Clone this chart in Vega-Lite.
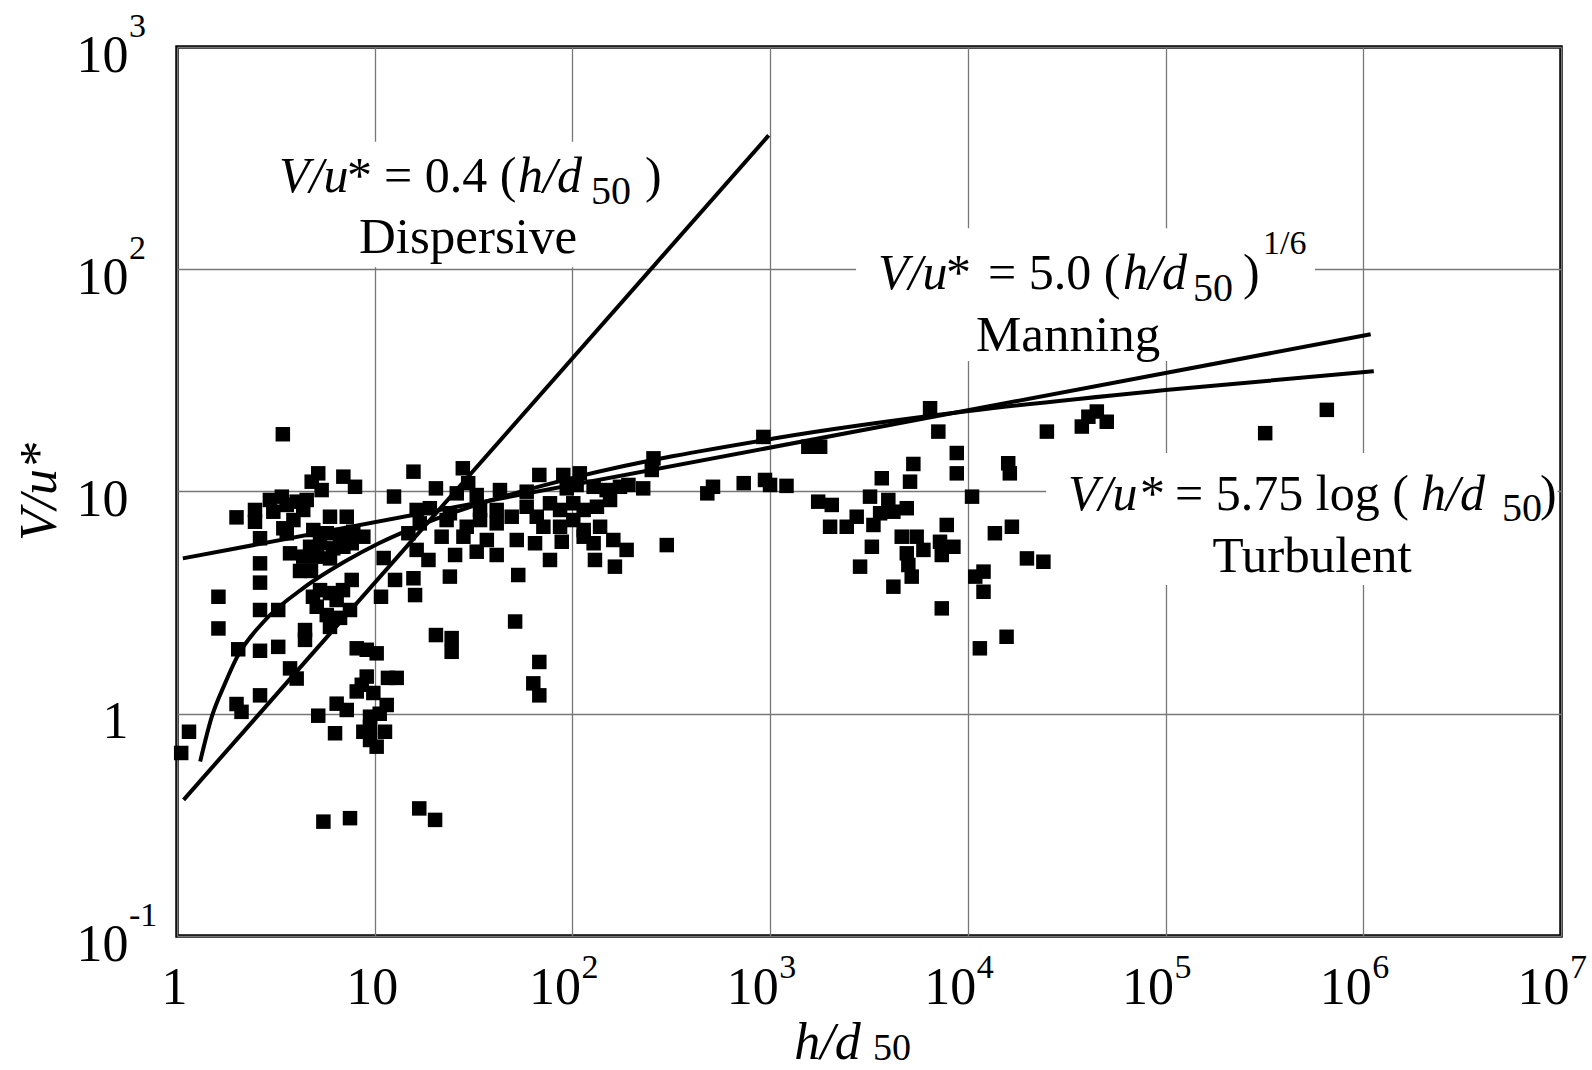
{
  "$schema": "https://vega.github.io/schema/vega-lite/v6.json",
  "width": 1384,
  "height": 889,
  "autosize": {"type": "none"},
  "padding": {"left": 177, "top": 47, "right": 31, "bottom": 134},
  "background": "white",
  "config": {
    "font": "Liberation Serif",
    "view": {"stroke": "black", "strokeWidth": 3.5}
  },
  "datasets": {
    "points": [
      {"h_d50": 3.43, "V_u": 18.1}, {"h_d50": 5.18, "V_u": 12.07}, {"h_d50": 4.80, "V_u": 11.07}, {"h_d50": 5.39, "V_u": 10.15},
      {"h_d50": 6.94, "V_u": 11.66}, {"h_d50": 7.95, "V_u": 10.5}, {"h_d50": 12.52, "V_u": 9.49}, {"h_d50": 2.00, "V_u": 7.65},
      {"h_d50": 2.48, "V_u": 8.26}, {"h_d50": 2.48, "V_u": 7.31}, {"h_d50": 2.95, "V_u": 9.16}, {"h_d50": 3.39, "V_u": 9.48},
      {"h_d50": 3.07, "V_u": 8.11}, {"h_d50": 3.59, "V_u": 8.70}, {"h_d50": 4.03, "V_u": 9.00}, {"h_d50": 4.53, "V_u": 9.16},
      {"h_d50": 4.35, "V_u": 8.26}, {"h_d50": 3.88, "V_u": 7.44}, {"h_d50": 3.45, "V_u": 6.83}, {"h_d50": 3.59, "V_u": 6.49},
      {"h_d50": 2.63, "V_u": 6.16}, {"h_d50": 5.94, "V_u": 7.70}, {"h_d50": 7.22, "V_u": 7.70}, {"h_d50": 4.89, "V_u": 6.71},
      {"h_d50": 5.72, "V_u": 6.49}, {"h_d50": 6.68, "V_u": 6.37}, {"h_d50": 7.79, "V_u": 6.59}, {"h_d50": 8.76, "V_u": 6.26},
      {"h_d50": 4.71, "V_u": 5.64}, {"h_d50": 5.29, "V_u": 5.85}, {"h_d50": 6.17, "V_u": 5.55}, {"h_d50": 6.94, "V_u": 5.64},
      {"h_d50": 7.65, "V_u": 5.85}, {"h_d50": 3.73, "V_u": 5.27}, {"h_d50": 4.35, "V_u": 5.09}, {"h_d50": 5.09, "V_u": 5.09},
      {"h_d50": 5.94, "V_u": 5.00}, {"h_d50": 2.63, "V_u": 4.75}, {"h_d50": 4.19, "V_u": 4.39}, {"h_d50": 4.76, "V_u": 4.39},
      {"h_d50": 11.1, "V_u": 5.02}, {"h_d50": 1.15, "V_u": 0.83}, {"h_d50": 1.05, "V_u": 0.666}, {"h_d50": 1.62, "V_u": 3.36},
      {"h_d50": 1.62, "V_u": 2.42}, {"h_d50": 2.04, "V_u": 1.95}, {"h_d50": 2.63, "V_u": 1.92}, {"h_d50": 3.25, "V_u": 2.00},
      {"h_d50": 2.63, "V_u": 2.93}, {"h_d50": 3.25, "V_u": 2.93}, {"h_d50": 2.63, "V_u": 3.89}, {"h_d50": 2.00, "V_u": 1.106},
      {"h_d50": 2.12, "V_u": 1.02}, {"h_d50": 2.63, "V_u": 1.21}, {"h_d50": 3.73, "V_u": 1.60}, {"h_d50": 4.03, "V_u": 1.44},
      {"h_d50": 4.44, "V_u": 2.38}, {"h_d50": 4.44, "V_u": 2.15}, {"h_d50": 5.29, "V_u": 3.60}, {"h_d50": 5.94, "V_u": 3.49},
      {"h_d50": 6.42, "V_u": 3.25}, {"h_d50": 5.09, "V_u": 3.03}, {"h_d50": 5.72, "V_u": 2.78}, {"h_d50": 5.94, "V_u": 2.46},
      {"h_d50": 6.68, "V_u": 2.70}, {"h_d50": 7.50, "V_u": 2.93}, {"h_d50": 4.87, "V_u": 3.36}, {"h_d50": 6.91, "V_u": 3.60},
      {"h_d50": 7.65, "V_u": 4.00}, {"h_d50": 10.76, "V_u": 3.36}, {"h_d50": 12.67, "V_u": 4.00}, {"h_d50": 8.11, "V_u": 1.97},
      {"h_d50": 9.11, "V_u": 1.94}, {"h_d50": 10.23, "V_u": 1.87}, {"h_d50": 9.11, "V_u": 1.47}, {"h_d50": 8.60, "V_u": 1.35},
      {"h_d50": 9.84, "V_u": 1.24}, {"h_d50": 8.11, "V_u": 1.26}, {"h_d50": 11.67, "V_u": 1.45}, {"h_d50": 12.92, "V_u": 1.45},
      {"h_d50": 6.42, "V_u": 1.11}, {"h_d50": 7.22, "V_u": 1.04}, {"h_d50": 5.18, "V_u": 0.98}, {"h_d50": 11.5, "V_u": 1.095},
      {"h_d50": 10.6, "V_u": 1.00}, {"h_d50": 9.47, "V_u": 0.97}, {"h_d50": 9.47, "V_u": 0.874}, {"h_d50": 8.76, "V_u": 0.83},
      {"h_d50": 11.27, "V_u": 0.83}, {"h_d50": 9.47, "V_u": 0.762}, {"h_d50": 10.23, "V_u": 0.711}, {"h_d50": 6.30, "V_u": 0.817},
      {"h_d50": 5.50, "V_u": 0.327}, {"h_d50": 7.50, "V_u": 0.339}, {"h_d50": 15.7, "V_u": 12.28}, {"h_d50": 27.9, "V_u": 12.72},
      {"h_d50": 68.0, "V_u": 11.87}, {"h_d50": 20.4, "V_u": 10.33}, {"h_d50": 26.0, "V_u": 9.81}, {"h_d50": 29.7, "V_u": 10.9},
      {"h_d50": 32.8, "V_u": 9.64}, {"h_d50": 43.0, "V_u": 10.15}, {"h_d50": 58.7, "V_u": 9.98}, {"h_d50": 89.9, "V_u": 11.87},
      {"h_d50": 109, "V_u": 12.07}, {"h_d50": 105, "V_u": 10.7}, {"h_d50": 93.6, "V_u": 10.33}, {"h_d50": 128, "V_u": 10.5},
      {"h_d50": 149, "V_u": 10.15}, {"h_d50": 174, "V_u": 10.5}, {"h_d50": 192, "V_u": 10.7}, {"h_d50": 228, "V_u": 10.33},
      {"h_d50": 257, "V_u": 14.1}, {"h_d50": 252, "V_u": 12.5}, {"h_d50": 16.3, "V_u": 8.26}, {"h_d50": 19.0, "V_u": 8.41},
      {"h_d50": 24.0, "V_u": 7.98}, {"h_d50": 34.1, "V_u": 8.26}, {"h_d50": 41.4, "V_u": 8.26}, {"h_d50": 49.3, "V_u": 7.70},
      {"h_d50": 58.7, "V_u": 8.54}, {"h_d50": 66.0, "V_u": 7.70}, {"h_d50": 77.0, "V_u": 8.85}, {"h_d50": 86.6, "V_u": 8.26},
      {"h_d50": 101, "V_u": 8.85}, {"h_d50": 114, "V_u": 8.26}, {"h_d50": 133, "V_u": 8.54}, {"h_d50": 155, "V_u": 9.16},
      {"h_d50": 16.9, "V_u": 7.19}, {"h_d50": 23.1, "V_u": 7.44}, {"h_d50": 29.2, "V_u": 6.94}, {"h_d50": 34.1, "V_u": 7.44},
      {"h_d50": 41.4, "V_u": 7.19}, {"h_d50": 71.3, "V_u": 6.94}, {"h_d50": 86.6, "V_u": 6.94}, {"h_d50": 101, "V_u": 7.44},
      {"h_d50": 114, "V_u": 6.71}, {"h_d50": 138, "V_u": 6.94}, {"h_d50": 14.8, "V_u": 6.49}, {"h_d50": 21.8, "V_u": 6.26},
      {"h_d50": 28.1, "V_u": 6.26}, {"h_d50": 36.9, "V_u": 6.05}, {"h_d50": 52.3, "V_u": 6.05}, {"h_d50": 64.7, "V_u": 5.85},
      {"h_d50": 88.3, "V_u": 5.94}, {"h_d50": 114, "V_u": 6.26}, {"h_d50": 128, "V_u": 5.85}, {"h_d50": 161, "V_u": 6.05},
      {"h_d50": 188, "V_u": 5.46}, {"h_d50": 300, "V_u": 5.74}, {"h_d50": 16.3, "V_u": 5.46}, {"h_d50": 18.7, "V_u": 4.92},
      {"h_d50": 25.5, "V_u": 5.18}, {"h_d50": 32.8, "V_u": 5.36}, {"h_d50": 41.4, "V_u": 5.18}, {"h_d50": 77.0, "V_u": 4.92},
      {"h_d50": 130, "V_u": 4.92}, {"h_d50": 164, "V_u": 4.59}, {"h_d50": 15.7, "V_u": 4.07}, {"h_d50": 16.0, "V_u": 3.42},
      {"h_d50": 24.0, "V_u": 4.14}, {"h_d50": 53.2, "V_u": 4.21}, {"h_d50": 51.3, "V_u": 2.60}, {"h_d50": 20.4, "V_u": 2.26},
      {"h_d50": 24.5, "V_u": 2.19}, {"h_d50": 24.5, "V_u": 1.90}, {"h_d50": 68.0, "V_u": 1.71}, {"h_d50": 63.4, "V_u": 1.37},
      {"h_d50": 68.0, "V_u": 1.21}, {"h_d50": 16.8, "V_u": 0.375}, {"h_d50": 20.2, "V_u": 0.333}, {"h_d50": 481, "V_u": 9.81},
      {"h_d50": 514, "V_u": 10.5}, {"h_d50": 735, "V_u": 10.9}, {"h_d50": 924, "V_u": 17.6}, {"h_d50": 1560, "V_u": 15.9},
      {"h_d50": 1790, "V_u": 15.9}, {"h_d50": 6440, "V_u": 23.7}, {"h_d50": 7090, "V_u": 18.6}, {"h_d50": 8790, "V_u": 14.9},
      {"h_d50": 8790, "V_u": 12.07}, {"h_d50": 5300, "V_u": 13.3}, {"h_d50": 5100, "V_u": 11.07}, {"h_d50": 3670, "V_u": 11.47},
      {"h_d50": 942, "V_u": 11.27}, {"h_d50": 999, "V_u": 10.7}, {"h_d50": 1210, "V_u": 10.6}, {"h_d50": 1750, "V_u": 9.00},
      {"h_d50": 2050, "V_u": 8.70}, {"h_d50": 3200, "V_u": 9.48}, {"h_d50": 3960, "V_u": 9.16}, {"h_d50": 3600, "V_u": 7.98},
      {"h_d50": 4200, "V_u": 8.11}, {"h_d50": 4910, "V_u": 8.41}, {"h_d50": 2740, "V_u": 7.70}, {"h_d50": 2010, "V_u": 6.94},
      {"h_d50": 2440, "V_u": 6.94}, {"h_d50": 3330, "V_u": 7.07}, {"h_d50": 7820, "V_u": 7.07}, {"h_d50": 4630, "V_u": 6.26},
      {"h_d50": 5510, "V_u": 6.26}, {"h_d50": 5960, "V_u": 5.46}, {"h_d50": 7230, "V_u": 5.94}, {"h_d50": 8450, "V_u": 5.64},
      {"h_d50": 7380, "V_u": 5.18}, {"h_d50": 4910, "V_u": 5.27}, {"h_d50": 5000, "V_u": 4.67}, {"h_d50": 5200, "V_u": 4.14},
      {"h_d50": 3270, "V_u": 5.64}, {"h_d50": 2850, "V_u": 4.59}, {"h_d50": 4200, "V_u": 3.73}, {"h_d50": 7380, "V_u": 2.98},
      {"h_d50": 10500, "V_u": 9.48}, {"h_d50": 13700, "V_u": 6.49}, {"h_d50": 16700, "V_u": 6.94}, {"h_d50": 19900, "V_u": 5.00},
      {"h_d50": 24100, "V_u": 4.83}, {"h_d50": 10900, "V_u": 4.14}, {"h_d50": 12000, "V_u": 4.36}, {"h_d50": 12000, "V_u": 3.54},
      {"h_d50": 11500, "V_u": 1.97}, {"h_d50": 15700, "V_u": 2.22}, {"h_d50": 16000, "V_u": 13.4}, {"h_d50": 16300, "V_u": 12.07},
      {"h_d50": 25100, "V_u": 18.6}, {"h_d50": 37700, "V_u": 19.6}, {"h_d50": 40700, "V_u": 21.7}, {"h_d50": 44900, "V_u": 22.9},
      {"h_d50": 50400, "V_u": 20.6}, {"h_d50": 319000, "V_u": 18.3}, {"h_d50": 654000, "V_u": 23.3}
    ],
    "curves": [
      {"curve": "Dispersive", "h_d50": 1.08, "V_u": 0.41},
      {"curve": "Dispersive", "h_d50": 983, "V_u": 400},
      {"curve": "Manning", "h_d50": 1.07, "V_u": 5.0},
      {"curve": "Manning", "h_d50": 1090000, "V_u": 51},
      {"curve": "Turbulent", "h_d50": 1.31, "V_u": 0.61},
      {"curve": "Turbulent", "h_d50": 1.5, "V_u": 0.97},
      {"curve": "Turbulent", "h_d50": 1.75, "V_u": 1.37},
      {"curve": "Turbulent", "h_d50": 2.0, "V_u": 1.78},
      {"curve": "Turbulent", "h_d50": 2.75, "V_u": 2.6},
      {"curve": "Turbulent", "h_d50": 4.4, "V_u": 3.7},
      {"curve": "Turbulent", "h_d50": 7.1, "V_u": 4.85},
      {"curve": "Turbulent", "h_d50": 10.5, "V_u": 5.85},
      {"curve": "Turbulent", "h_d50": 18.3, "V_u": 7.25},
      {"curve": "Turbulent", "h_d50": 33, "V_u": 8.73},
      {"curve": "Turbulent", "h_d50": 104, "V_u": 11.6},
      {"curve": "Turbulent", "h_d50": 1040, "V_u": 17.3},
      {"curve": "Turbulent", "h_d50": 10100, "V_u": 23.0},
      {"curve": "Turbulent", "h_d50": 100000, "V_u": 28.6},
      {"curve": "Turbulent", "h_d50": 1130000, "V_u": 34.8}
    ],
    "masks": [
      {"h_d50": 2.95, "h_d50_end": 220, "V_u": 102, "V_u_end": 375},
      {"h_d50": 2720, "h_d50_end": 570000, "V_u": 38.7, "V_u_end": 153},
      {"h_d50": 24900, "h_d50_end": 9600000, "V_u": 3.8, "V_u_end": 14.9}
    ],
    "italicText": [
      {"label": "V/u", "h_d50": 3.28, "V_u": 222.7},
      {"label": "h/d", "h_d50": 53.1, "V_u": 222.7},
      {"label": "V/u", "h_d50": 3514, "V_u": 81.5},
      {"label": "h/d", "h_d50": 60950, "V_u": 81.5},
      {"label": "V/u", "h_d50": 32130, "V_u": 8.26},
      {"label": "h/d", "h_d50": 1961000, "V_u": 8.26}
    ],
    "romanText": [
      {"label": "*", "h_d50": 7.24, "V_u": 222.7},
      {"label": "= 0.4 (", "h_d50": 11.15, "V_u": 222.7},
      {"label": ")", "h_d50": 232.9, "V_u": 222.7},
      {"label": "*", "h_d50": 7758, "V_u": 81.5},
      {"label": "= 5.0 (", "h_d50": 12650, "V_u": 81.5},
      {"label": ")", "h_d50": 246600, "V_u": 81.5},
      {"label": "*", "h_d50": 74300, "V_u": 8.26},
      {"label": "= 5.75 log (", "h_d50": 111700, "V_u": 8.26},
      {"label": ")", "h_d50": 7840000, "V_u": 8.26}
    ],
    "subText": [
      {"label": "50", "h_d50": 124.2, "V_u": 196.7},
      {"label": "50", "h_d50": 137700, "V_u": 71.96},
      {"label": "50", "h_d50": 5035000, "V_u": 7.37}
    ],
    "supText": [
      {"label": "1/6", "h_d50": 311300, "V_u": 117.1}
    ],
    "captions": [
      {"label": "Dispersive", "h_d50": 29.65, "V_u": 118.3},
      {"label": "Manning", "h_d50": 32130, "V_u": 42.9},
      {"label": "Turbulent", "h_d50": 550800, "V_u": 4.34}
    ],
    "xExponents": [
      {"label": "2", "h_d50": 100, "V_u": 0.1},
      {"label": "3", "h_d50": 1000, "V_u": 0.1},
      {"label": "4", "h_d50": 10000, "V_u": 0.1},
      {"label": "5", "h_d50": 100000, "V_u": 0.1},
      {"label": "6", "h_d50": 1000000, "V_u": 0.1},
      {"label": "7", "h_d50": 10000000, "V_u": 0.1}
    ],
    "yExponents": [
      {"label": "3", "h_d50": 1, "V_u": 1000},
      {"label": "2", "h_d50": 1, "V_u": 100},
      {"label": "-1", "h_d50": 1, "V_u": 0.1}
    ],
    "xTitleSub": [
      {"label": "50", "h_d50": 3316, "V_u": 0.1}
    ]
  },
  "encoding": {
    "x": {
      "field": "h_d50",
      "type": "quantitative",
      "scale": {"type": "log", "domain": [1, 10000000], "nice": false},
      "axis": {
        "title": "h/d",
        "values": [1, 10, 100, 1000, 10000, 100000, 1000000, 10000000],
        "labelExpr": "datum.value < 2 ? '1' : '10'",
        "labelAlign": {"condition": {"test": "datum.value < 20", "value": "center"}, "value": "right"},
        "labelOffset": {"condition": {"test": "datum.value < 20", "value": -3}, "value": 8},
        "labelBaseline": "alphabetic",
        "labelPadding": 67,
        "grid": true,
        "gridColor": "#777777",
        "gridWidth": 1.3,
        "domain": false,
        "ticks": false,
        "tickSize": 0,
        "labelFont": "Liberation Serif",
        "labelFontSize": 52,
        "labelColor": "black",
        "labelFlush": false,
        "labelOverlap": false,
        "titleFont": "Liberation Serif",
        "titleFontSize": 52,
        "titleFontStyle": "italic",
        "titleFontWeight": "normal",
        "titleColor": "black",
        "titleAlign": "center",
        "titleBaseline": "alphabetic",
        "titleX": 650,
        "titleY": 122
      }
    },
    "y": {
      "field": "V_u",
      "type": "quantitative",
      "scale": {"type": "log", "domain": [0.1, 1000], "nice": false},
      "axis": {
        "title": "V/u*",
        "values": [0.1, 1, 10, 100, 1000],
        "labelExpr": "datum.value > 0.5 && datum.value < 2 ? '1' : '10'",
        "grid": true,
        "gridColor": "#777777",
        "gridWidth": 1.3,
        "domain": false,
        "ticks": false,
        "tickSize": 0,
        "labelFont": "Liberation Serif",
        "labelFontSize": 52,
        "labelColor": "black",
        "labelAlign": "right",
        "labelBaseline": "alphabetic",
        "labelPadding": 49,
        "labelOffset": 24,
        "labelFlush": false,
        "labelOverlap": false,
        "titleFont": "Liberation Serif",
        "titleFontSize": 52,
        "titleFontStyle": "italic",
        "titleFontWeight": "normal",
        "titleColor": "black",
        "titlePadding": 10
      }
    }
  },
  "layer": [
    {
      "data": {"name": "masks"},
      "mark": {"type": "rect", "fill": "white", "stroke": null},
      "encoding": {
        "x2": {"field": "h_d50_end"},
        "y2": {"field": "V_u_end"}
      }
    },
    {
      "data": {"name": "curves"},
      "mark": {"type": "line", "color": "black", "strokeWidth": 4, "interpolate": "monotone"},
      "encoding": {
        "detail": {"field": "curve", "type": "nominal"}
      }
    },
    {
      "data": {"name": "points"},
      "mark": {"type": "point", "shape": "square", "filled": true, "size": 210, "color": "black", "opacity": 1}
    },
    {
      "data": {"name": "italicText"},
      "mark": {"type": "text", "font": "Liberation Serif", "fontStyle": "italic", "fontSize": 50, "align": "left", "baseline": "alphabetic", "color": "black"},
      "encoding": {"text": {"field": "label", "type": "nominal"}}
    },
    {
      "data": {"name": "romanText"},
      "mark": {"type": "text", "font": "Liberation Serif", "fontSize": 50, "align": "left", "baseline": "alphabetic", "color": "black"},
      "encoding": {"text": {"field": "label", "type": "nominal"}}
    },
    {
      "data": {"name": "subText"},
      "mark": {"type": "text", "font": "Liberation Serif", "fontSize": 40, "align": "left", "baseline": "alphabetic", "color": "black"},
      "encoding": {"text": {"field": "label", "type": "nominal"}}
    },
    {
      "data": {"name": "supText"},
      "mark": {"type": "text", "font": "Liberation Serif", "fontSize": 34, "align": "left", "baseline": "alphabetic", "color": "black"},
      "encoding": {"text": {"field": "label", "type": "nominal"}}
    },
    {
      "data": {"name": "captions"},
      "mark": {"type": "text", "font": "Liberation Serif", "fontSize": 51, "align": "center", "baseline": "alphabetic", "color": "black"},
      "encoding": {"text": {"field": "label", "type": "nominal"}}
    },
    {
      "data": {"name": "xExponents"},
      "mark": {"type": "text", "font": "Liberation Serif", "fontSize": 34, "align": "left", "baseline": "alphabetic", "color": "black", "dx": 9, "dy": 42},
      "encoding": {"text": {"field": "label", "type": "nominal"}}
    },
    {
      "data": {"name": "yExponents"},
      "mark": {"type": "text", "font": "Liberation Serif", "fontSize": 34, "align": "left", "baseline": "alphabetic", "color": "black", "dx": -48, "dy": -10},
      "encoding": {"text": {"field": "label", "type": "nominal"}}
    },
    {
      "data": {"name": "xTitleSub"},
      "mark": {"type": "text", "font": "Liberation Serif", "fontSize": 38, "align": "left", "baseline": "alphabetic", "color": "black", "dy": 124},
      "encoding": {"text": {"field": "label", "type": "nominal"}}
    }
  ]
}
